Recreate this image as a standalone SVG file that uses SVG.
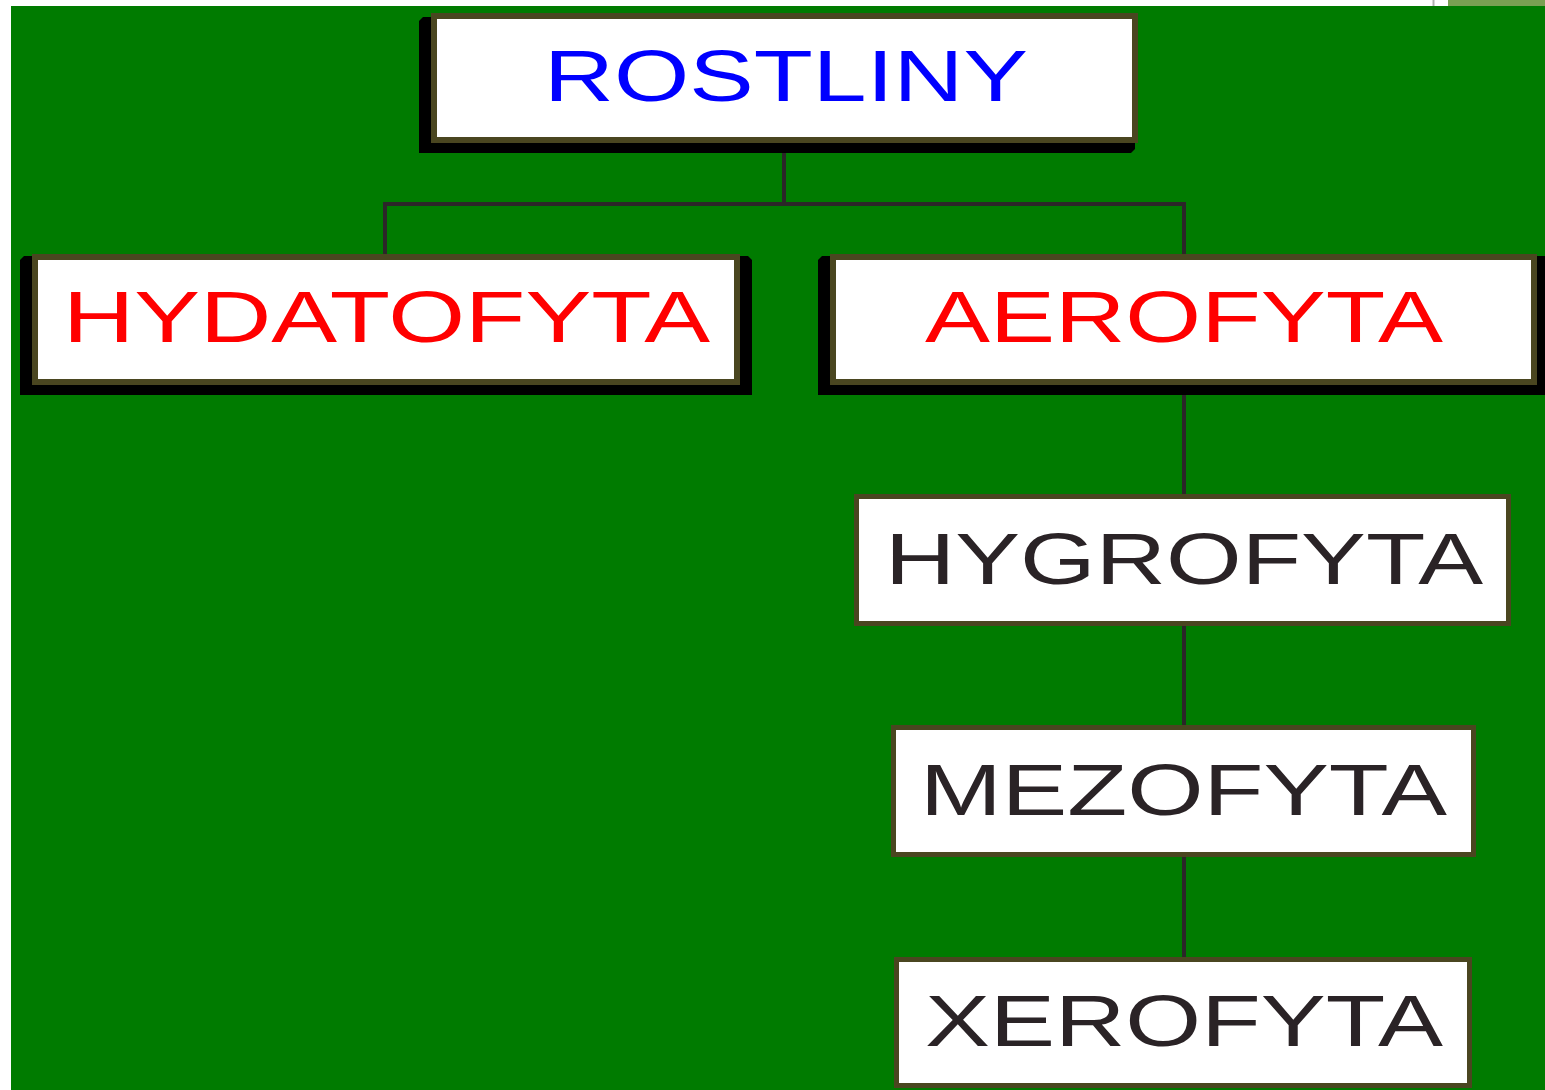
<svg xmlns="http://www.w3.org/2000/svg" width="1545" height="1090" viewBox="0 0 1545 1090">
<style>
.box{fill:#ffffff;stroke:#4a4620;stroke-width:6}
.box2{fill:#ffffff;stroke:#4a4620;stroke-width:5}
.sh{fill:#000000}
.t{font-family:"Liberation Sans",Arial,sans-serif;font-size:72px}
.conn{stroke:#2b2628;stroke-width:4;fill:none}
</style>
<rect x="0" y="0" width="1545" height="1090" fill="#ffffff"/>
<rect x="1448" y="0" width="97" height="6" fill="#7aa052"/>
<line x1="1433.5" y1="0" x2="1433.5" y2="6" stroke="#b0b0b0" stroke-width="2"/>
<rect x="11" y="6" width="1534" height="1084" fill="#007b00"/>
<g id="connectors">
<path class="conn" d="M784,143 V204 M385,204 H1184 M385,202 V255 M1184,202 V255"/>
<path class="conn" d="M1184,385 V495 M1184,626 V726 M1184,857 V958"/>
</g>
<g id="n-rostliny">
<polygon class="sh" points="423,17 1131,17 1135,21 1135,149 1131,153 419,153 419,21"/>
<rect class="box" x="434" y="16" width="701" height="124"/>
<text class="t" x="544" y="101" fill="#0000ff" textLength="484" lengthAdjust="spacingAndGlyphs">ROSTLINY</text>
</g>
<g id="n-hydatofyta">
<polygon class="sh" points="24,256 748,256 752,260 752,395 20,395 20,260"/>
<rect class="box" x="35" y="257" width="702" height="125"/>
<text class="t" x="63" y="342" fill="#ff0000" textLength="647" lengthAdjust="spacingAndGlyphs">HYDATOFYTA</text>
</g>
<g id="n-aerofyta">
<polygon class="sh" points="822,256 1545,256 1549,260 1549,395 818,395 818,260"/>
<rect class="box" x="833" y="257" width="701" height="125"/>
<text class="t" x="925" y="342" fill="#ff0000" textLength="518" lengthAdjust="spacingAndGlyphs">AEROFYTA</text>
</g>
<g id="n-hygrofyta">
<rect class="box2" x="856.5" y="496.5" width="652" height="127"/>
<text class="t" x="885" y="584" fill="#2a2326" textLength="598" lengthAdjust="spacingAndGlyphs">HYGROFYTA</text>
</g>
<g id="n-mezofyta">
<rect class="box2" x="893.5" y="727.5" width="580" height="127"/>
<text class="t" x="920" y="815" fill="#2a2326" textLength="527" lengthAdjust="spacingAndGlyphs">MEZOFYTA</text>
</g>
<g id="n-xerofyta">
<rect class="box2" x="896.5" y="959.5" width="573" height="126"/>
<text class="t" x="925" y="1046" fill="#2a2326" textLength="518" lengthAdjust="spacingAndGlyphs">XEROFYTA</text>
</g>
</svg>
